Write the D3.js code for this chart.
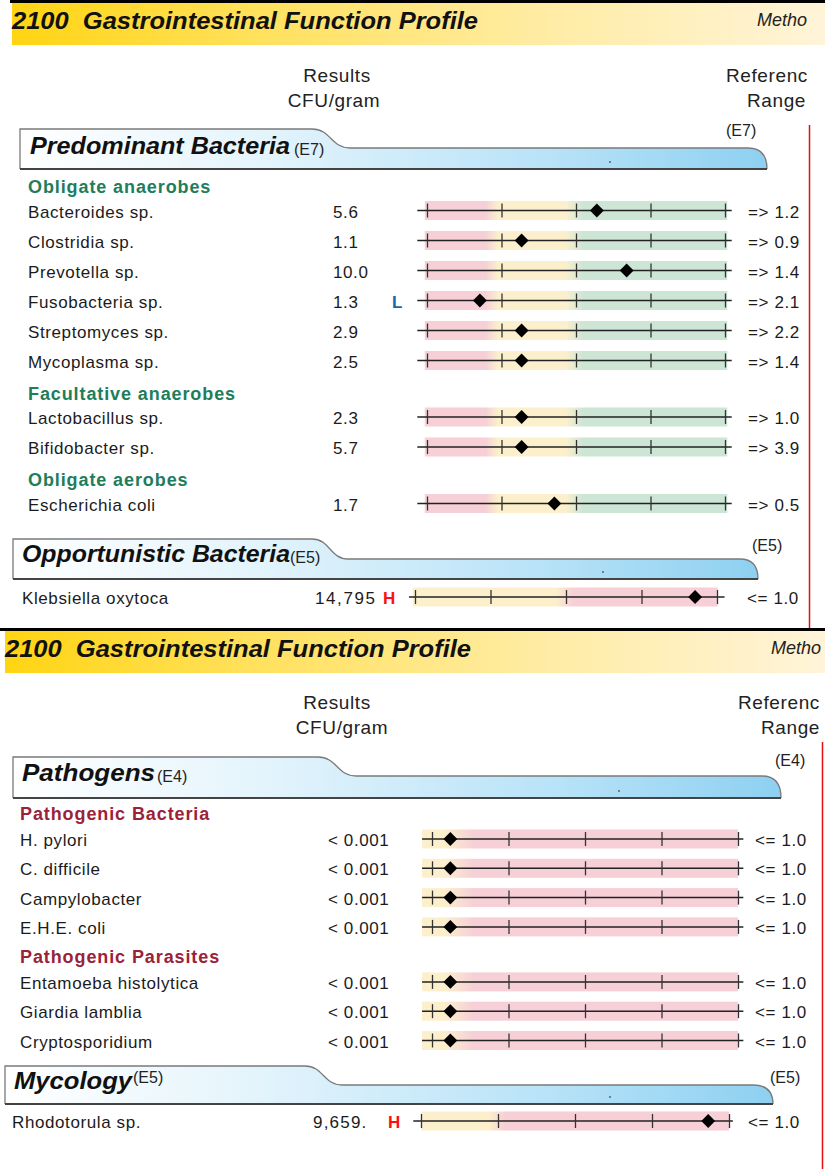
<!DOCTYPE html>
<html><head><meta charset="utf-8">
<script src="https://cdn.jsdelivr.net/npm/d3@7"></script>
<style>
html,body{margin:0;padding:0;background:#fff;}
svg{display:block;font-family:"Liberation Sans",Arial,Helvetica,sans-serif;}
</style></head><body>
<svg id="chart" width="825" height="1169"></svg>
<script>
// ---------------- DATA ----------------
const pageTitle = "2100  Gastrointestinal Function Profile";
const methodText = "Metho";
const resultsHead = ["Results", "CFU/gram"];
const refHead = ["Referenc", "Range"];
const tickValues = [0, 1, 2, 3, 4];

// Predominant Bacteria (E7)
const predGroups = ["Obligate anaerobes", "Facultative anaerobes", "Obligate aerobes"];
const predGroupOf = [0, 0, 0, 0, 0, 0, 1, 1, 2];
const predNames = ["Bacteroides sp.", "Clostridia sp.", "Prevotella sp.", "Fusobacteria sp.", "Streptomyces sp.", "Mycoplasma sp.", "Lactobacillus sp.", "Bifidobacter sp.", "Escherichia coli"];
const predResults = ["5.6", "1.1", "10.0", "1.3", "2.9", "2.5", "2.3", "5.7", "1.7"];
const predFlags = ["", "", "", "L", "", "", "", "", ""];
const predRefs = ["=> 1.2", "=> 0.9", "=> 1.4", "=> 2.1", "=> 2.2", "=> 1.4", "=> 1.0", "=> 3.9", "=> 0.5"];
const predMarkers = [2.28, 1.27, 2.68, 0.71, 1.27, 1.27, 1.27, 1.27, 1.71];

// Opportunistic Bacteria (E5)
const oppNames = ["Klebsiella oxytoca"];
const oppResults = ["14,795"];
const oppFlags = ["H"];
const oppRefs = ["<= 1.0"];
const oppMarkers = [3.71];

// Pathogens (E4)
const pathGroups = ["Pathogenic Bacteria", "Pathogenic Parasites"];
const pathGroupOf = [0, 0, 0, 0, 1, 1, 1];
const pathNames = ["H. pylori", "C. difficile", "Campylobacter", "E.H.E. coli", "Entamoeba histolytica", "Giardia lamblia", "Cryptosporidium"];
const pathResults = ["< 0.001", "< 0.001", "< 0.001", "< 0.001", "< 0.001", "< 0.001", "< 0.001"];
const pathFlags = ["", "", "", "", "", "", ""];
const pathRefs = ["<= 1.0", "<= 1.0", "<= 1.0", "<= 1.0", "<= 1.0", "<= 1.0", "<= 1.0"];
const pathMarkers = [0.24, 0.24, 0.24, 0.24, 0.24, 0.24, 0.24];

// Mycology (E5)
const mycoNames = ["Rhodotorula sp."];
const mycoResults = ["9,659."];
const mycoFlags = ["H"];
const mycoRefs = ["<= 1.0"];
const mycoMarkers = [3.73];

// ---------------- STYLE ----------------
const PINK = "#f6cfd7", YEL = "#fcf0cc", GRN = "#cce5d5";
const TXT = "#1b1b1b";

const svg = d3.select("#chart");
const defs = svg.append("defs");

const hg = defs.append("linearGradient").attr("id", "hdrGrad").attr("x1", 0).attr("x2", 1).attr("y1", 0).attr("y2", 0);
[[0, "#ffd412"], [0.3, "#ffe15c"], [0.65, "#ffeca3"], [1, "#fff4d9"]].forEach(s => hg.append("stop").attr("offset", s[0]).attr("stop-color", s[1]));
const tg = defs.append("linearGradient").attr("id", "tabGrad").attr("x1", 0).attr("x2", 1).attr("y1", 0).attr("y2", 0);
[[0, "#ffffff"], [0.3, "#e6f5fc"], [0.7, "#b9e3f8"], [1, "#8ed0f1"]].forEach(s => tg.append("stop").attr("offset", s[0]).attr("stop-color", s[1]));

function pageHeader(o) {
  const g = svg.append("g");
  g.append("rect").attr("x", o.blackX).attr("y", o.blackY).attr("width", 825 - o.blackX).attr("height", 3).attr("fill", "#000");
  g.append("rect").attr("x", o.bandX).attr("y", o.blackY + 3).attr("width", 825 - o.bandX).attr("height", 42).attr("fill", "url(#hdrGrad)");
  g.append("text").attr("x", o.bandX).attr("y", o.blackY + 29).text(pageTitle)
    .attr("style", "white-space:pre").attr("xml:space", "preserve")
    .attr("font-size", 24).attr("font-weight", "bold").attr("font-style", "italic").attr("fill", "#111")
    .attr("textLength", 466).attr("lengthAdjust", "spacingAndGlyphs");
  g.append("text").attr("x", o.methoX).attr("y", o.blackY + 26).text(methodText)
    .attr("font-size", 18).attr("font-style", "italic").attr("fill", "#222");
  g.append("text").attr("x", o.resX).attr("y", o.headY).attr("text-anchor", "middle").text(resultsHead[0])
    .attr("font-size", 19).attr("letter-spacing", 0.6).attr("fill", "#222");
  g.append("text").attr("x", o.resX2).attr("y", o.headY + 25).attr("text-anchor", "middle").text(resultsHead[1])
    .attr("font-size", 19).attr("letter-spacing", 0.6).attr("fill", "#222");
  g.append("text").attr("x", o.refX).attr("y", o.headY).text(refHead[0])
    .attr("font-size", 19).attr("letter-spacing", 0.6).attr("fill", "#222");
  g.append("text").attr("x", o.rangeX).attr("y", o.headY + 25).attr("text-anchor", "end").text(refHead[1])
    .attr("font-size", 19).attr("letter-spacing", 0.6).attr("fill", "#222");
}

function tab(o) {
  const g = svg.append("g");
  const m = (o.xc0 + o.xc1) / 2;
  const p = `M${o.x0},${o.yBot} L${o.x0},${o.yTop} L${o.xc0},${o.yTop} C${m},${o.yTop} ${m},${o.yMid} ${o.xc1},${o.yMid} L${o.xr0},${o.yMid} Q${o.xr1},${o.yMid} ${o.xr1},${o.yBot} Z`;
  g.append("path").attr("d", p).attr("fill", "url(#tabGrad)");
  const outline = `M${o.x0},${o.yBot} L${o.x0},${o.yTop} L${o.xc0},${o.yTop} C${m},${o.yTop} ${m},${o.yMid} ${o.xc1},${o.yMid} L${o.xr0},${o.yMid} Q${o.xr1},${o.yMid} ${o.xr1},${o.yBot}`;
  g.append("path").attr("d", outline).attr("fill", "none").attr("stroke", "#7a7a7a").attr("stroke-width", 1.3);
  g.append("line").attr("x1", o.x0).attr("x2", o.xr1).attr("y1", o.yBot).attr("y2", o.yBot).attr("stroke", "#444").attr("stroke-width", 2);
  g.append("circle").attr("cx", o.dotX).attr("cy", o.yBot - 7).attr("r", 0.9).attr("fill", "#555");
  g.append("text").attr("x", o.textX).attr("y", o.textY).attr("fill", "#111").text(o.title)
    .attr("font-size", 23).attr("font-weight", "bold").attr("font-style", "italic")
    .attr("textLength", o.titleLen).attr("lengthAdjust", "spacingAndGlyphs");
  g.append("text").attr("x", o.eX).attr("y", o.eY).text(o.exp).attr("font-size", 16).attr("fill", "#222");
  g.append("text").attr("x", o.eRX).attr("y", o.eRY).text(o.exp).attr("font-size", 16).attr("fill", "#222");
}

let gradId = 0;
function rows(o) {
  const g = svg.append("g");
  const x = d3.scaleLinear().domain([0, 4]).range([o.x0, o.x4]);
  const id = "band" + (gradId++);
  const b0 = x(o.band[0]), b1 = x(o.band[1]);
  const lg = defs.append("linearGradient").attr("id", id).attr("gradientUnits", "userSpaceOnUse")
    .attr("x1", b0).attr("x2", b1).attr("y1", 0).attr("y2", 0);
  o.zones.forEach(s => lg.append("stop").attr("offset", Math.max(0, Math.min(1, (x(s[0]) - b0) / (b1 - b0)))).attr("stop-color", s[1]));

  let y = o.startY, lastGroup = -1, first = true;
  const ys = [];
  o.names.forEach((n, i) => {
    const grp = o.groupOf ? o.groupOf[i] : -1;
    if (grp !== lastGroup && o.groups) {
      if (!first) y += o.rowToHeader;
      g.append("text").attr("x", o.nameX).attr("y", y + 7).text(o.groups[grp])
        .attr("font-size", 18).attr("font-weight", "bold").attr("letter-spacing", 0.9).attr("fill", o.groupColor);
      y += o.headerToRow;
      lastGroup = grp;
    } else if (!first) {
      y += o.rowStep;
    }
    first = false;
    ys.push(y);
  });

  o.names.forEach((n, i) => {
    const cy = ys[i];
    const r = g.append("g");
    r.append("rect").attr("x", b0).attr("y", cy - 9.5).attr("width", b1 - b0).attr("height", 19).attr("fill", `url(#${id})`);
    r.append("line").attr("x1", x(o.line[0])).attr("x2", x(o.line[1])).attr("y1", cy).attr("y2", cy)
      .attr("stroke", "#222").attr("stroke-width", 1.5);
    const ax = d3.axisBottom(x).tickValues(tickValues).tickSize(14).tickFormat("");
    const ag = r.append("g").attr("transform", `translate(0,${cy - 7})`).call(ax);
    ag.select(".domain").remove();
    ag.selectAll(".tick line").attr("stroke", "#333").attr("stroke-width", 1.3);
    r.append("path").attr("d", d3.symbol(d3.symbolSquare, 96)())
      .attr("transform", `translate(${x(o.markers[i])},${cy}) rotate(45)`).attr("fill", "#000");
    r.append("text").attr("x", o.nameX).attr("y", cy + 7).text(n)
      .attr("font-size", 17).attr("letter-spacing", 0.6).attr("fill", TXT);
    r.append("text").attr("x", o.valX).attr("y", cy + 7).text(o.results[i])
      .attr("font-size", 17).attr("letter-spacing", o.valSpacing || 0.6).attr("fill", TXT);
    if (o.flags[i]) {
      r.append("text").attr("x", o.flagX).attr("y", cy + 7).text(o.flags[i])
        .attr("font-size", 17).attr("font-weight", "bold").attr("fill", o.flags[i] === "H" ? "#ff1010" : "#1a66a6");
    }
    r.append("text").attr("x", o.refX).attr("y", cy + 7).text(o.refs[i])
      .attr("font-size", 17).attr("letter-spacing", 0.6).attr("fill", TXT);
  });
}

// ---------------- PAGE 1 ----------------
pageHeader({ blackX: 10, blackY: 0, bandX: 12, methoX: 757, resX: 337, resX2: 334, refX: 726, rangeX: 806, headY: 82 });
svg.append("line").attr("x1", 809.5).attr("x2", 809.5).attr("y1", 125).attr("y2", 628).attr("stroke", "#e41010").attr("stroke-width", 1.5);

tab({ x0: 20, yTop: 129, xc0: 312, xc1: 350, yMid: 148, xr0: 748, xr1: 767, yBot: 169, dotX: 610,
  textX: 30, textY: 154, title: "Predominant Bacteria", titleLen: 260, exp: "(E7)", eX: 294, eY: 155, eRX: 726, eRY: 136 });

rows({ names: predNames, results: predResults, flags: predFlags, refs: predRefs, markers: predMarkers,
  groups: predGroups, groupOf: predGroupOf, groupColor: "#1e7d5b",
  startY: 186, headerToRow: 24.5, rowStep: 30, rowToHeader: 32,
  nameX: 28, valX: 333, flagX: 392, refX: 748,
  x0: 427, x4: 725, band: [-0.03, 4.03], line: [-0.13, 4.09],
  zones: [[0, PINK], [0.78, PINK], [0.96, YEL], [1.86, YEL], [2.1, GRN], [4, GRN]] });

tab({ x0: 13, yTop: 539, xc0: 312, xc1: 348, yMid: 559, xr0: 740, xr1: 758, yBot: 579, dotX: 603,
  textX: 22, textY: 562, title: "Opportunistic Bacteria", titleLen: 268, exp: "(E5)", eX: 290, eY: 563, eRX: 752, eRY: 551 });

rows({ names: oppNames, results: oppResults, flags: oppFlags, refs: oppRefs, markers: oppMarkers,
  startY: 597, headerToRow: 0, rowStep: 30, rowToHeader: 0,
  nameX: 22, valX: 315, valSpacing: 1.6, flagX: 383, refX: 747,
  x0: 415, x4: 717, band: [-0.03, 4.01], line: [-0.08, 4.1],
  zones: [[0, YEL], [1.86, YEL], [2.1, PINK], [4, PINK]] });

// ---------------- PAGE 2 ----------------
pageHeader({ blackX: 0, blackY: 628, bandX: 5, methoX: 771, resX: 337, resX2: 342, refX: 738, rangeX: 820, headY: 709 });
svg.append("line").attr("x1", 822.5).attr("x2", 822.5).attr("y1", 742).attr("y2", 1169).attr("stroke", "#e41010").attr("stroke-width", 1.5);

tab({ x0: 13, yTop: 757, xc0: 318, xc1: 356, yMid: 776, xr0: 762, xr1: 781, yBot: 798, dotX: 619,
  textX: 22, textY: 781, title: "Pathogens", titleLen: 133, exp: "(E4)", eX: 157, eY: 782, eRX: 775, eRY: 766 });

rows({ names: pathNames, results: pathResults, flags: pathFlags, refs: pathRefs, markers: pathMarkers,
  groups: pathGroups, groupOf: pathGroupOf, groupColor: "#9b2238",
  startY: 813, headerToRow: 26, rowStep: 29.3, rowToHeader: 29,
  nameX: 20, valX: 328, flagX: 395, refX: 755,
  x0: 432, x4: 738, band: [-0.13, 4.0], line: [-0.13, 4.07],
  zones: [[-0.13, YEL], [0.15, YEL], [0.55, PINK], [4, PINK]] });

tab({ x0: 5, yTop: 1066, xc0: 305, xc1: 342, yMid: 1085, xr0: 753, xr1: 773, yBot: 1104, dotX: 610,
  textX: 14, textY: 1089, title: "Mycology", titleLen: 118, exp: "(E5)", eX: 133, eY: 1083, eRX: 770, eRY: 1083 });

rows({ names: mycoNames, results: mycoResults, flags: mycoFlags, refs: mycoRefs, markers: mycoMarkers,
  startY: 1121, headerToRow: 0, rowStep: 30, rowToHeader: 0,
  nameX: 12, valX: 313, valSpacing: 1.2, flagX: 388, refX: 748,
  x0: 421, x4: 729, band: [0, 4.0], line: [-0.1, 4.05],
  zones: [[0, YEL], [0.88, YEL], [1.1, PINK], [4, PINK]] });
</script></body></html>
